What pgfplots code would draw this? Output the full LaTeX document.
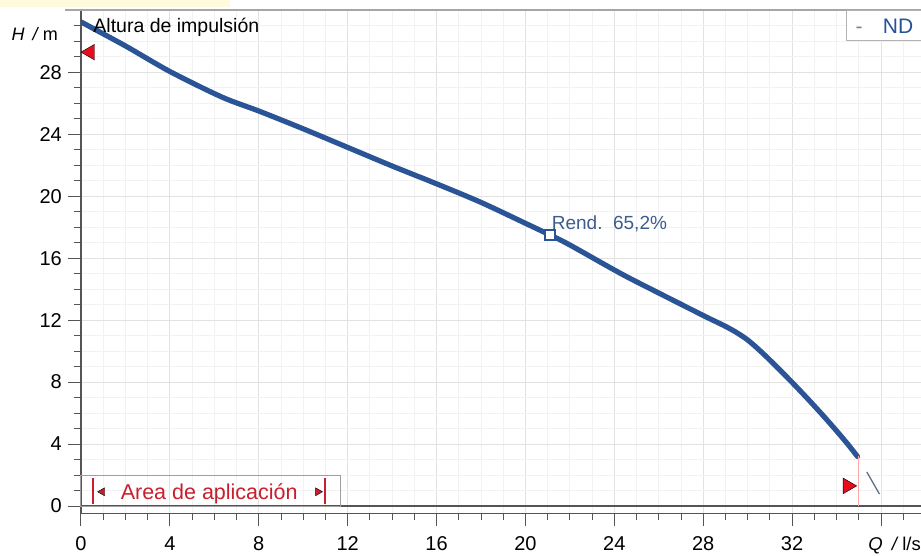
\documentclass[border=0pt]{standalone}
\usepackage{fontspec}
\setmainfont{Liberation Sans}
\usepackage{pgfplots}
\pgfplotsset{compat=1.18}
\definecolor{curveblue}{RGB}{42,84,150}
\definecolor{rendblue}{RGB}{62,92,140}
\definecolor{ndblue}{RGB}{40,82,150}
\definecolor{mred}{RGB}{232,12,28}
\definecolor{ared}{RGB}{200,30,45}
\definecolor{axgray}{RGB}{85,85,85}
\definecolor{gmaj}{RGB}{226,226,226}
\definecolor{gmin}{RGB}{242,242,242}
\definecolor{slashc}{RGB}{95,110,135}
\definecolor{paleyellow}{RGB}{255,250,222}
\begin{document}
\begin{tikzpicture}
\path[use as bounding box] (0,0) rectangle (921pt,555pt);
\fill[paleyellow] (0,548pt) rectangle (230pt,555pt);
\begin{axis}[
  at={(81pt,41.7pt)}, anchor=south west,
  scale only axis, width=840pt, height=503.3pt,
  xmin=0, xmax=37.8, ymin=-0.47, ymax=32.02,
  axis x line*=bottom, axis y line*=left,
  axis line style={axgray, line width=1.2pt},
  xtick={0,4,...,36}, xticklabels={0,4,8,12,16,20,24,28,32,},
  ytick={0,4,...,28},
  minor xtick={0,1,...,37}, minor ytick={0,1,...,32},
  tick align=outside,
  major tick length=13pt, minor tick length=7pt,
  tick style={axgray, line width=1pt},
  grid=both,
  major grid style={gmaj, line width=1pt},
  minor grid style={gmin, line width=0.8pt},
  ticklabel style={font=\fontsize{20}{22}\selectfont},
  xticklabel style={anchor=base, inner sep=0pt, yshift=-24.2pt},
  yticklabel style={anchor=east, inner sep=0pt, xshift=-6pt},
  /pgf/number format/assume math mode=true,
  clip mode=individual,
]
% zero line and top border
\draw[axgray, line width=1.2pt] (axis cs:0,0) -- (axis cs:37.8,0);
\draw[gray!70, line width=1.2pt] ([xshift=-16pt]rel axis cs:0,1) -- (rel axis cs:1,1);

% pump curve
\addplot[curveblue, line width=5.2pt, smooth, tension=0.5, line cap=round] coordinates {
 (0,31.25) (2,29.7) (4,28.05) (6.34,26.4) (8,25.5) (10,24.35) (12.25,23.0)
 (14,21.95) (16,20.8) (18,19.6) (20,18.25) (21.1,17.5) (22,16.85) (24.3,15.0)
 (26,13.75) (28,12.3) (28.5,11.95) (29,11.6) (29.5,11.2) (30,10.72) (30.5,10.1)
 (31,9.42) (31.5,8.71) (32,7.98) (32.5,7.23) (33,6.46) (33.5,5.67) (34,4.85)
 (34.5,4.0) (34.94,3.2)};

% end of curve vertical line and slash
\addplot[red!35, line width=1pt] coordinates {(35,0) (35,3.2)};
\addplot[slashc, line width=1.3pt] coordinates {(35.36,2.2) (35.93,0.77)};

% duty point
\addplot[only marks, mark=square*, mark size=5pt,
  mark options={draw=curveblue, fill=white, line width=2pt}] coordinates {(21.1,17.5)};
\node[anchor=base west, inner sep=0pt, text=rendblue, font=\fontsize{19}{22}\selectfont]
  at (axis cs:21.18,17.82) {Rend.~~65,2\%};

% red triangles
\addplot[only marks, mark=triangle*, mark size=9pt,
  mark options={rotate=90, fill=mred, draw=none}] coordinates {(0.405,29.3)};
\addplot[only marks, mark=triangle*, mark size=9pt,
  mark options={rotate=-90, fill=mred, draw=none}] coordinates {(34.5,1.3)};

% area de aplicacion box
\draw[gray!75, line width=1pt] (axis cs:0,0) rectangle (axis cs:11.66,2.0);
\draw[ared, line width=1.8pt] (axis cs:0.55,0.1) -- (axis cs:0.55,1.82);
\draw[ared, line width=1.8pt] (axis cs:10.99,0.1) -- (axis cs:10.99,1.82);
\addplot[only marks, mark=triangle*, mark size=4.6pt,
  mark options={rotate=90, fill=ared, draw=none}] coordinates {(0.955,0.92)};
\addplot[only marks, mark=triangle*, mark size=4.6pt,
  mark options={rotate=-90, fill=ared, draw=none}] coordinates {(10.66,0.92)};
\node[anchor=base, inner sep=0pt, text=ared, font=\fontsize{21.5}{24}\selectfont]
  at (axis cs:5.77,0.43) {Area de aplicación};

% texts
\node[anchor=base west, inner sep=0pt, font=\fontsize{19.5}{22}\selectfont]
  at (axis cs:0.55,30.56) {Altura de impulsión};
\node[anchor=base east, inner sep=0pt, font=\fontsize{18}{22}\selectfont]
  at (axis cs:-1.035,30.04) {\textit{H}\hspace{0.45em}\textit{/}\hspace{0.2em}m};
\node[anchor=base west, inner sep=0pt, font=\fontsize{18.5}{22}\selectfont]
  at (axis cs:35.42,-2.9) {\textit{Q}\hspace{0.5em}\textit{/}\hspace{0.2em}l/s};

% legend box
\draw[gray!60, line width=1pt, fill=white] (axis cs:34.46,31.97) rectangle (axis cs:39,30.08);
\node[anchor=base west, inner sep=0pt, text=gray, font=\fontsize{21}{24}\selectfont]
  at (axis cs:34.85,30.52) {-};
\node[anchor=base west, inner sep=0pt, text=ndblue, font=\fontsize{21}{24}\selectfont]
  at (axis cs:36.08,30.52) {ND};
\end{axis}
\end{tikzpicture}
\end{document}
